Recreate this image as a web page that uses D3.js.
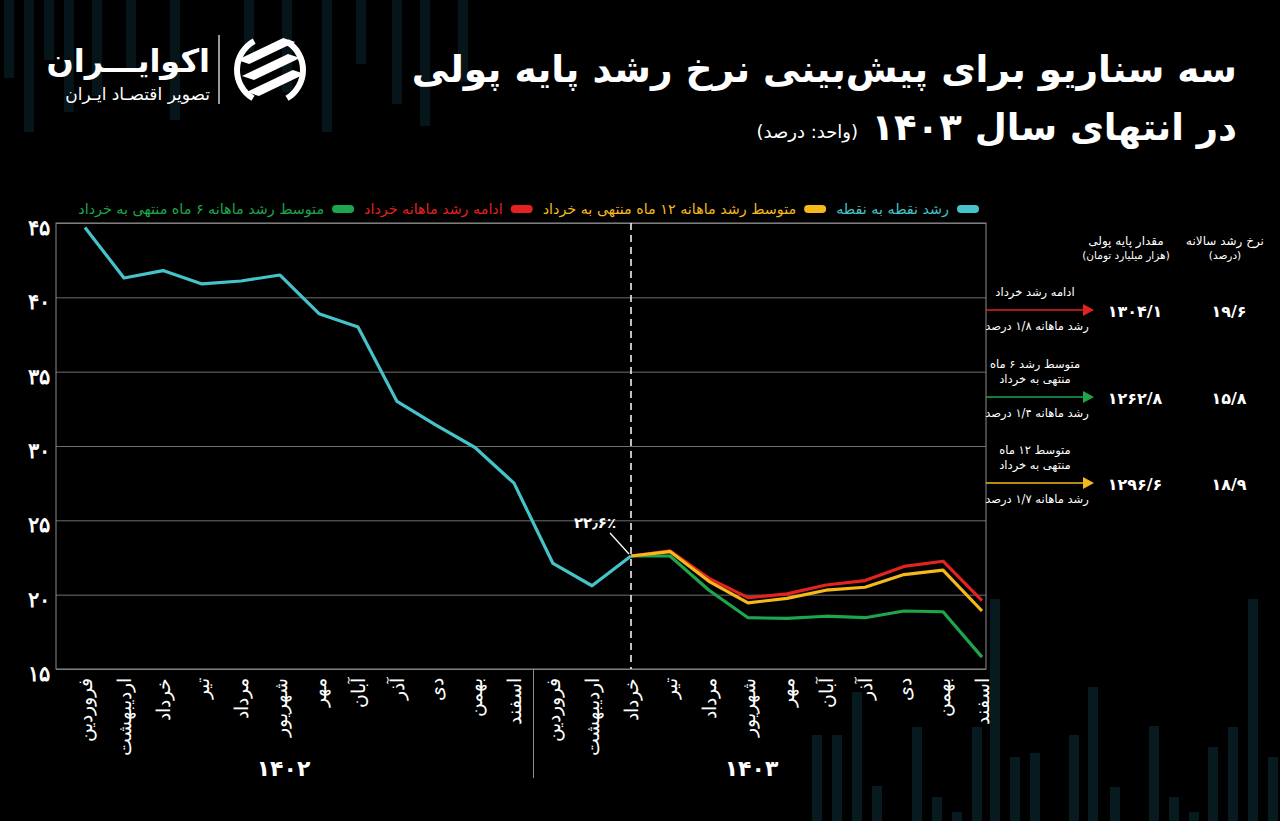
<!DOCTYPE html>
<html>
<head>
<meta charset="utf-8">
<script src="https://cdn.jsdelivr.net/npm/d3@7"></script>
<style>
  html, body { margin: 0; padding: 0; background: #000; }
  svg { display: block; font-family: "DejaVu Sans", sans-serif; }
</style>
</head>
<body>
<div id="chart"></div>
<script>
// data
const months = ["فروردین", "اردیبهشت", "خرداد", "تیر", "مرداد", "شهریور", "مهر", "آبان", "آذر", "دی", "بهمن", "اسفند"];
const years = [1402, 1403];
const pointGrowth = [44.7, 41.3, 41.8, 40.9, 41.1, 41.5, 38.9, 38.0, 33.0, 31.4, 29.9, 27.5, 22.1, 20.6, 22.6];
const scenarioStart = 14; // خرداد ۱۴۰۳
const continueKhordad = [22.6, 22.95, 21.1, 19.8, 20.05, 20.65, 20.95, 21.9, 22.25, 19.6];
const avg12Months = [22.6, 22.9, 20.9, 19.45, 19.75, 20.3, 20.5, 21.35, 21.65, 18.9];
const avg6Months = [22.6, 22.6, 20.3, 18.45, 18.4, 18.55, 18.45, 18.9, 18.85, 15.8];
const yTicks = [15, 20, 25, 30, 35, 40, 45];

const legendLabels = ["رشد نقطه به نقطه", "متوسط رشد ماهانه ۱۲ ماه منتهی به خرداد", "ادامه رشد ماهانه خرداد", "متوسط رشد ماهانه ۶ ماه منتهی به خرداد"];
const legendColors = ["#45c3c9", "#f6b91c", "#e2231f", "#1ea64c"];

const scenarioTitles = [["ادامه رشد خرداد"], ["متوسط رشد ۶ ماه", "منتهی به خرداد"], ["متوسط ۱۲ ماه", "منتهی به خرداد"]];
const scenarioColors = ["#e2231f", "#1ea64c", "#f6b91c"];
const monthlyRate = [1.8, 1.4, 1.7];
const baseMoney = [1304.1, 1262.8, 1296.6];
const annualRate = [19.6, 15.8, 18.9];

const fa = (v) => String(v).replace(/\d/g, (d) => "۰۱۲۳۴۵۶۷۸۹"[d]);
const faDec = (v) => fa(String(v).replace(".", "/"));

const width = 1280, height = 821;
const svg = d3.select("#chart").append("svg")
  .attr("width", width)
  .attr("height", height)
  .style("background", "#000");

// faint background stripes (decoration)
const decoTop = [[4, 78], [24, 132], [44, 60], [64, 112], [92, 96], [126, 70], [170, 120], [244, 52], [282, 92], [322, 132], [356, 64], [392, 104], [420, 126], [458, 82]];
const decoBottom = [[812, 735], [832, 735], [852, 692], [872, 786], [912, 727], [932, 797], [952, 812], [972, 727], [990, 599], [1010, 757], [1030, 753], [1069, 735], [1088, 687], [1110, 787], [1149, 726], [1169, 797], [1189, 812], [1208, 747], [1228, 727], [1248, 599], [1268, 757]];
svg.append("g").selectAll("rect").data(decoTop).join("rect")
  .attr("x", (d) => d[0]).attr("y", 0).attr("width", 10).attr("height", (d) => d[1])
  .attr("fill", "#06151a");
svg.append("g").selectAll("rect").data(decoBottom).join("rect")
  .attr("x", (d) => d[0]).attr("y", (d) => d[1]).attr("width", 10).attr("height", (d) => height - d[1])
  .attr("fill", "#071a1f");

// title
svg.append("text").attr("x", 1237).attr("y", 82)
  .attr("text-anchor", "end").attr("fill", "#fff")
  .attr("font-size", 37.5).attr("font-weight", 700)
  .text("سه سناریو برای پیش‌بینی نرخ رشد پایه پولی");
svg.append("text").attr("x", 1237).attr("y", 140)
  .attr("text-anchor", "end").attr("fill", "#fff")
  .attr("font-size", 37).attr("font-weight", 700)
  .text("در انتهای سال " + fa(1403));
svg.append("text").attr("x", 858).attr("y", 138)
  .attr("text-anchor", "end").attr("fill", "#fff")
  .attr("font-size", 18)
  .text("(واحد: درصد)");

// logo
const logo = svg.append("g");
logo.append("text").attr("x", 210).attr("y", 72).attr("text-anchor", "end")
  .attr("fill", "#fff").attr("font-size", 32).attr("font-weight", 700).text("اکوایـــران");
logo.append("text").attr("x", 210).attr("y", 100).attr("text-anchor", "end")
  .attr("fill", "#fff").attr("font-size", 17).text("تصویر اقتصـاد ایـران");
logo.append("line").attr("x1", 219).attr("x2", 219).attr("y1", 35).attr("y2", 104)
  .attr("stroke", "#fff").attr("stroke-width", 1.2);
const mark = logo.append("g").attr("transform", "translate(270,70)");
mark.append("path")
  .attr("d", d3.arc()({ innerRadius: 30, outerRadius: 36, startAngle: -2.6, endAngle: -0.5 }))
  .attr("fill", "#fff");
mark.append("path")
  .attr("d", d3.arc()({ innerRadius: 30, outerRadius: 36, startAngle: 0.55, endAngle: 2.6 }))
  .attr("fill", "#fff");
[-16, 0, 16].forEach((o) => {
  mark.append("path")
    .attr("d", `M${-28 + o * 0.3},${o + 6} L${18 + o * 0.3},${o - 16} L${30 + o * 0.3},${o - 12} L${-16 + o * 0.3},${o + 10} Z`)
    .attr("fill", "#fff");
});

// chart
const dims = { left: 56, right: 986, top: 223, bottom: 669 };
const x = d3.scalePoint().domain(d3.range(years.length * months.length)).range([85, 982]);
const y = d3.scaleLinear().domain([15, 45]).range([dims.bottom, dims.top]);

const yAxis = d3.axisLeft(y)
  .tickValues(yTicks)
  .tickSize(-(dims.right - dims.left))
  .tickFormat((d) => fa(d));

svg.append("g")
  .attr("transform", `translate(${dims.left},0)`)
  .call(yAxis)
  .call((g) => g.select(".domain").remove())
  .call((g) => g.selectAll(".tick line").attr("stroke", "#6f6f6f").attr("stroke-width", 1))
  .call((g) => g.selectAll(".tick text")
    .attr("x", -6).attr("dy", "0.55em")
    .attr("fill", "#fff").attr("font-size", 21).attr("font-weight", 700));

svg.append("rect")
  .attr("x", dims.left).attr("y", dims.top)
  .attr("width", dims.right - dims.left).attr("height", dims.bottom - dims.top)
  .attr("fill", "none").attr("stroke", "#8c8c8c").attr("stroke-width", 1);

// month labels
const xAxis = d3.axisBottom(x).tickSize(0).tickFormat((i) => months[i % 12]);
svg.append("g")
  .attr("transform", `translate(0,${dims.bottom})`)
  .call(xAxis)
  .call((g) => g.select(".domain").remove())
  .call((g) => g.selectAll(".tick text")
    .attr("transform", "rotate(-90)")
    .attr("text-anchor", "end")
    .attr("x", -9).attr("y", 0).attr("dy", "0.35em")
    .attr("fill", "#fff").attr("font-size", 19));

// year separator and labels
const sepX = (x(11) + x(12)) / 2;
svg.append("line").attr("x1", sepX).attr("x2", sepX)
  .attr("y1", dims.bottom).attr("y2", 778)
  .attr("stroke", "#8c8c8c").attr("stroke-width", 1);
svg.append("g").selectAll("text").data(years).join("text")
  .attr("x", (d, i) => (x(i * 12 + 5) + x(i * 12 + 6)) / 2 - 16)
  .attr("y", 776)
  .attr("text-anchor", "middle").attr("fill", "#fff")
  .attr("font-size", 22).attr("font-weight", 700)
  .text((d) => fa(d));

// dashed marker at خرداد ۱۴۰۳
svg.append("line")
  .attr("x1", x(scenarioStart)).attr("x2", x(scenarioStart))
  .attr("y1", dims.top).attr("y2", dims.bottom)
  .attr("stroke", "#fff").attr("stroke-width", 1.5).attr("stroke-dasharray", "7,5");

// lines
const line = d3.line().x((d) => x(d[0])).y((d) => y(d[1]));
const series = [
  { values: avg6Months, color: legendColors[3], start: scenarioStart },
  { values: continueKhordad, color: legendColors[2], start: scenarioStart },
  { values: avg12Months, color: legendColors[1], start: scenarioStart },
  { values: pointGrowth, color: legendColors[0], start: 0 }
];
svg.append("g").selectAll("path").data(series).join("path")
  .attr("d", (s) => line(s.values.map((v, i) => [s.start + i, v])))
  .attr("fill", "none")
  .attr("stroke", (s) => s.color)
  .attr("stroke-width", 3.2)
  .attr("stroke-linejoin", "round");

// 22.6% annotation
const lastPoint = pointGrowth[pointGrowth.length - 1];
svg.append("line")
  .attr("x1", x(scenarioStart) - 21).attr("x2", x(scenarioStart) - 2)
  .attr("y1", y(lastPoint) - 23).attr("y2", y(lastPoint) - 2)
  .attr("stroke", "#fff").attr("stroke-width", 1.3);
svg.append("text")
  .attr("x", x(scenarioStart) - 36).attr("y", y(lastPoint) - 28)
  .attr("text-anchor", "middle").attr("fill", "#fff")
  .attr("font-size", 15).attr("font-weight", 700)
  .text(fa("22") + "٫" + fa("6") + "٪");

// legend, laid out right to left
const legend = svg.append("g").attr("transform", "translate(0,209)");
let lx = 979;
legendLabels.forEach((label, i) => {
  legend.append("rect")
    .attr("x", lx - 22).attr("y", -4).attr("width", 22).attr("height", 8)
    .attr("rx", 4).attr("fill", legendColors[i]);
  const t = legend.append("text")
    .attr("x", lx - 30).attr("y", 5)
    .attr("text-anchor", "end").attr("fill", legendColors[i])
    .attr("font-size", 14.3)
    .text(label);
  lx = lx - 30 - t.node().getComputedTextLength() - 10;
});

// right panel
const panel = svg.append("g");
const headers = [
  { x: 1126, lines: ["مقدار پایه پولی", "(هزار میلیارد تومان)"] },
  { x: 1225, lines: ["نرخ رشد سالانه", "(درصد)"] }
];
headers.forEach((h) => {
  h.lines.forEach((l, j) => {
    panel.append("text").attr("x", h.x).attr("y", 245 + j * 14)
      .attr("text-anchor", "middle").attr("fill", "#fff")
      .attr("font-size", j === 0 ? 12 : 10.5)
      .text(l);
  });
});
const rowY = [310, 397, 483];
scenarioTitles.forEach((lines, i) => {
  const ry = rowY[i];
  lines.forEach((l, j) => {
    panel.append("text")
      .attr("x", 1035).attr("y", ry - 14 - (lines.length - 1 - j) * 15)
      .attr("text-anchor", "middle").attr("fill", "#fff")
      .attr("font-size", 11.5).text(l);
  });
  panel.append("line").attr("x1", dims.right).attr("x2", 1084)
    .attr("y1", ry).attr("y2", ry)
    .attr("stroke", scenarioColors[i]).attr("stroke-width", 1.5);
  panel.append("path")
    .attr("d", `M1083,${ry - 6} L1094,${ry} L1083,${ry + 6} Z`)
    .attr("fill", scenarioColors[i]);
  panel.append("text")
    .attr("x", 1037).attr("y", ry + 20)
    .attr("text-anchor", "middle").attr("fill", "#fff")
    .attr("font-size", 11.5).text("رشد ماهانه " + faDec(monthlyRate[i]) + " درصد");
  panel.append("text")
    .attr("x", 1135).attr("y", ry + 7)
    .attr("text-anchor", "middle").attr("fill", "#fff")
    .attr("font-size", 16).attr("font-weight", 700)
    .text(faDec(baseMoney[i]));
  panel.append("text")
    .attr("x", 1229).attr("y", ry + 7)
    .attr("text-anchor", "middle").attr("fill", "#fff")
    .attr("font-size", 16).attr("font-weight", 700)
    .text(faDec(annualRate[i]));
});
</script>
</body>
</html>
